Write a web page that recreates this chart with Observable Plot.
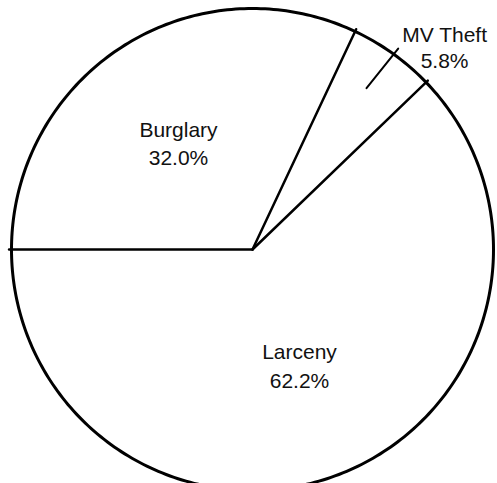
<!DOCTYPE html>
<html>
<head>
<meta charset="utf-8">
<script src="https://cdn.jsdelivr.net/npm/d3@7"></script>
<script src="https://cdn.jsdelivr.net/npm/@observablehq/plot@0.6"></script>
<style>
  html, body { margin: 0; padding: 0; background: #fff; overflow: hidden; }
  #chart { width: 497px; height: 483px; }
</style>
</head>
<body>
<div id="chart"></div>
<script>
// Data
const categories = ["Burglary", "MV Theft", "Larceny"];
const shares = [32.0, 5.8, 62.2];
const shareLabels = ["32.0%", "5.8%", "62.2%"];

// Layout (label anchor positions in unit-circle coordinates)
const labelX = [-0.307, 0.797, 0.195];
const labelY = [0.444, 0.842, -0.477];
const lineHeights = [1.33, 1.24, 1.38];

const startDeg = 270; // slices start at 9 o'clock, go clockwise
const toXY = (deg, r) => {
  const a = deg * Math.PI / 180;
  return {x: r * Math.sin(a), y: r * Math.cos(a)};
};

// Slice boundaries
const total = d3.sum(shares);
let acc = startDeg;
const slices = categories.map((c, i) => {
  const a0 = acc;
  const a1 = acc + shares[i] / total * 360;
  acc = a1;
  return {category: c, a0, a1, mid: (a0 + a1) / 2};
});

// Outer circle
const circle = d3.range(0, 361, 1).map(d => toXY(d, 1));

// Radial boundary lines (one per slice start)
const radials = [];
slices.forEach((s, i) => {
  radials.push({id: i, ...toXY(s.a0, 0)});
  radials.push({id: i, ...toXY(s.a0, 1.01)});
});

// Leader for MV Theft
const mv = slices[1];
const leader = [toXY(mv.mid - 0.4, 0.82), toXY(mv.mid + 0.3, 1.03)];

const labels = categories.map((c, i) => ({
  text: c + "\n" + shareLabels[i],
  x: labelX[i], y: labelY[i], lh: lineHeights[i]
}));

const chart = Plot.plot({
  width: 497,
  height: 483,
  margin: 0,
  x: {domain: [-1, 1], range: [11, 493], axis: null},
  y: {domain: [-1, 1], range: [490, 8], axis: null},
  style: {background: "white", fontFamily: "'Liberation Sans', Arial, Helvetica, sans-serif"},
  marks: [
    Plot.line(circle, {x: "x", y: "y", stroke: "black", strokeWidth: 3}),
    Plot.line(radials, {x: "x", y: "y", z: "id", stroke: "black", strokeWidth: 2.5}),
    Plot.line(leader, {x: "x", y: "y", stroke: "black", strokeWidth: 2}),
    ...labels.map(l => Plot.text([l], {
      x: "x", y: "y", text: "text", fontSize: 21, fill: "#111",
      textAnchor: "middle", lineHeight: l.lh
    }))
  ]
});
document.getElementById("chart").appendChild(chart);
</script>
</body>
</html>
